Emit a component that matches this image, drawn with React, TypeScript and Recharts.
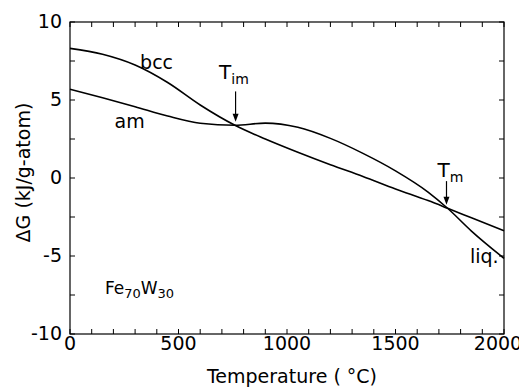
import React from 'react';
import { LineChart, Line, XAxis, YAxis, ReferenceDot, ReferenceLine } from 'recharts';

// Temperature (°C)
const temps = [0, 150, 300, 450, 600, 760, 900, 1050, 1200, 1350, 1500, 1650, 1740, 1850, 2000];
// ΔG (kJ/g-atom)
const bccValues = [8.31, 7.93, 7.24, 6.12, 4.68, 3.38, 2.5, 1.65, 0.85, 0.1, -0.7, -1.45, -1.94, -2.55, -3.38];
const amValues = [5.69, 5.15, 4.57, 3.97, 3.51, 3.38, 3.52, 3.25, 2.54, 1.58, 0.46, -0.9, -1.94, -3.4, -5.15];

const xTicks = [0, 100, 200, 300, 400, 500, 600, 700, 800, 900, 1000, 1100, 1200, 1300, 1400, 1500, 1600, 1700, 1800, 1900, 2000];
const xLabels = [0, 500, 1000, 1500, 2000];
const yTicks = [-10, -7.5, -5, -2.5, 0, 2.5, 5, 7.5, 10];
const yLabels = [-10, -5, 0, 5, 10];

const X_MIN = 0;
const X_MAX = 2000;
const Y_MIN = -10;
const Y_MAX = 10;

const data = temps.map((t, i) => ({ t, bcc: bccValues[i], am: amValues[i] }));

const FONT = '"DejaVu Sans", sans-serif';
const TICK = 5;

// two interior reference points; the frame is drawn from their pixel positions
const REF_A = { x: 100, y: -9 };
const REF_B = { x: 1900, y: 9 };

const BottomTick = (props: any) => {
  const { x, y, payload } = props;
  const v = payload.value;
  if (!xLabels.includes(v)) return <g />;
  const shift = v === X_MAX ? -6 : 0;
  return (
    <text x={x + shift} y={y + 16} textAnchor="middle" fontSize={19} fontFamily={FONT} fill="#000">
      {String(v)}
    </text>
  );
};

const LeftTick = (props: any) => {
  const { x, y, payload } = props;
  const v = payload.value;
  if (!yLabels.includes(v)) return <g />;
  return (
    <text x={x - 8} y={y + 6} textAnchor="end" fontSize={19} fontFamily={FONT} fill="#000">
      {String(v)}
    </text>
  );
};

// frame with inward ticks, positioned through the chart's own scales
const FrameShape = (p: any) => {
  const { x1, y1, x2, y2 } = p;
  if (![x1, y1, x2, y2].every((n) => typeof n === 'number' && isFinite(n))) return <g />;
  const sx = (v: number) => x1 + ((v - REF_A.x) * (x2 - x1)) / (REF_B.x - REF_A.x);
  const sy = (v: number) => y1 + ((v - REF_A.y) * (y2 - y1)) / (REF_B.y - REF_A.y);
  const left = sx(X_MIN);
  const right = sx(X_MAX);
  const top = sy(Y_MAX);
  const bottom = sy(Y_MIN);
  return (
    <g>
      {xTicks.map((v) => (
        <g key={`x${v}`}>
          <line x1={sx(v)} x2={sx(v)} y1={bottom} y2={bottom - TICK} stroke="#000" strokeWidth={1} />
          <line x1={sx(v)} x2={sx(v)} y1={top} y2={top + TICK} stroke="#000" strokeWidth={1} />
        </g>
      ))}
      {yTicks.map((v) => (
        <g key={`y${v}`}>
          <line x1={left} x2={left + TICK} y1={sy(v)} y2={sy(v)} stroke="#000" strokeWidth={1} />
          <line x1={right} x2={right - TICK} y1={sy(v)} y2={sy(v)} stroke="#000" strokeWidth={1} />
        </g>
      ))}
      <rect x={left} y={top} width={right - left} height={bottom - top} fill="none" stroke="#000" strokeWidth={1.2} />
    </g>
  );
};

const txt = (content: React.ReactNode, size = 19) => (props: any) => {
  const vb = props.viewBox || {};
  return (
    <text x={vb.x} y={vb.y} fontSize={size} fontFamily={FONT} fill="#000">
      {content}
    </text>
  );
};

const Arrow = (p: any) => {
  const { x1, y1, x2, y2 } = p;
  const top = Math.min(y1, y2);
  const bot = Math.max(y1, y2);
  return (
    <g>
      <line x1={x1} y1={top} x2={x2} y2={bot - 6} stroke="#000" strokeWidth={1.2} />
      <path d={`M${x2 - 3},${bot - 8} L${x2 + 3},${bot - 8} L${x2},${bot} Z`} fill="#000" />
    </g>
  );
};

export default function App() {
  return (
    <LineChart width={519} height={379} data={data} margin={{ top: 14, right: 23, left: 0, bottom: 0 }}>
      <XAxis
        xAxisId="b"
        dataKey="t"
        type="number"
        domain={[X_MIN, X_MAX]}
        ticks={xTicks}
        interval={0}
        tickSize={0}
        tickMargin={0}
        tickLine={false}
        tick={<BottomTick />}
        axisLine={false}
        height={53}
        label={{
          content: (p: any) => {
            const vb = p.viewBox;
            return (
              <text x={vb.x + vb.width / 2 + 5} y={vb.y + 49} textAnchor="middle" fontSize={19} fontFamily={FONT} fill="#000">
                Temperature ( °C)
              </text>
            );
          },
        }}
      />
      <YAxis
        yAxisId="l"
        type="number"
        domain={[Y_MIN, Y_MAX]}
        ticks={yTicks}
        interval={0}
        tickSize={0}
        tickMargin={0}
        tickLine={false}
        tick={<LeftTick />}
        axisLine={false}
        width={62}
        label={{
          content: (p: any) => {
            const vb = p.viewBox;
            const cx = vb.x + 22;
            const cy = vb.y + vb.height / 2 - 5.5;
            return (
              <text x={cx} y={cy} transform={`rotate(-90, ${cx}, ${cy})`} textAnchor="middle" fontSize={19} fontFamily={FONT} fill="#000">
                ΔG (kJ/g-atom)
              </text>
            );
          },
        }}
      />

      <Line xAxisId="b" yAxisId="l" type="monotone" dataKey="bcc" stroke="#000" strokeWidth={1.6} dot={false} isAnimationActive={false} />
      <Line xAxisId="b" yAxisId="l" type="monotone" dataKey="am" stroke="#000" strokeWidth={1.6} dot={false} isAnimationActive={false} />

      <ReferenceLine xAxisId="b" yAxisId="l" segment={[REF_A, REF_B]} shape={<FrameShape />} />

      <ReferenceLine xAxisId="b" yAxisId="l" segment={[{ x: 763, y: 5.55 }, { x: 763, y: 3.6 }]} shape={<Arrow />} />
      <ReferenceLine xAxisId="b" yAxisId="l" segment={[{ x: 1735, y: -0.2 }, { x: 1735, y: -1.72 }]} shape={<Arrow />} />

      <ReferenceDot xAxisId="b" yAxisId="l" x={323} y={6.99} r={0} stroke="none" fill="none" label={txt('bcc')} />
      <ReferenceDot xAxisId="b" yAxisId="l" x={205} y={3.2} r={0} stroke="none" fill="none" label={txt('am')} />
      <ReferenceDot xAxisId="b" yAxisId="l" x={1843} y={-5.45} r={0} stroke="none" fill="none" label={txt('liq.')} />
      <ReferenceDot
        xAxisId="b"
        yAxisId="l"
        x={687}
        y={6.35}
        r={0}
        stroke="none"
        fill="none"
        label={txt(
          <>
            <tspan>T</tspan>
            <tspan fontSize={14} dy={5}>im</tspan>
          </>,
          20
        )}
      />
      <ReferenceDot
        xAxisId="b"
        yAxisId="l"
        x={1694}
        y={0.06}
        r={0}
        stroke="none"
        fill="none"
        label={txt(
          <>
            <tspan>T</tspan>
            <tspan fontSize={14} dy={5}>m</tspan>
          </>,
          20
        )}
      />
      <ReferenceDot
        xAxisId="b"
        yAxisId="l"
        x={161}
        y={-7.44}
        r={0}
        stroke="none"
        fill="none"
        label={txt(
          <>
            <tspan>Fe</tspan>
            <tspan fontSize={13} dy={4}>70</tspan>
            <tspan dy={-4}>W</tspan>
            <tspan fontSize={13} dy={4}>30</tspan>
          </>,
          17
        )}
      />
    </LineChart>
  );
}
